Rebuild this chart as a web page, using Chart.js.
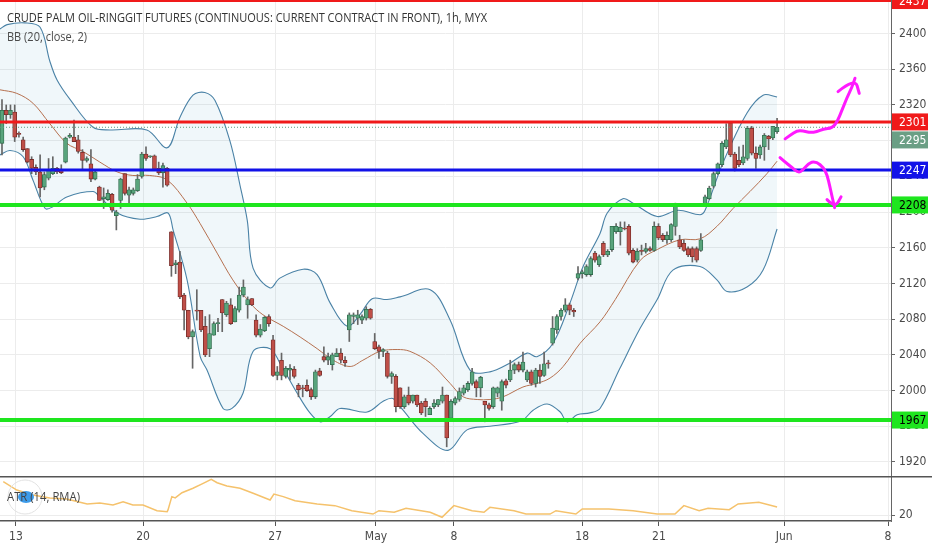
<!DOCTYPE html>
<html>
<head>
<meta charset="utf-8">
<script src="https://cdn.jsdelivr.net/npm/chart.js@4.4.1/dist/chart.umd.min.js"></script>
<style>
  html, body { margin: 0; padding: 0; background: #fff; }
  #wrap { position: relative; width: 932px; height: 550px; overflow: hidden; }
  #pricePane { position: absolute; left: 0; top: 0; width: 932px; height: 476px; }
  #atrPane { position: absolute; left: 0; top: 476px; width: 932px; height: 74px; }
</style>
</head>
<body>
<div id="wrap">
  <div id="pricePane"><canvas id="priceChart"></canvas></div>
  <div id="atrPane"><canvas id="atrChart"></canvas></div>
</div>
<script>
// hourly candles
const opens = [
  2277, 2314, 2309, 2312, 2288, 2281, 2271, 2259, 2250, 2245,
  2228, 2238, 2243, 2249, 2248, 2256, 2284, 2284, 2281, 2267,
  2258, 2254, 2237, 2228, 2215, 2214, 2220, 2196, 2213, 2243,
  2219, 2221, 2224, 2240, 2265, 2262, 2263, 2249, 2244, 2249,
  2178, 2141, 2144, 2107, 2090, 2060, 2090, 2090, 2072, 2047,
  2062, 2075, 2102, 2085, 2096, 2077, 2090, 2107, 2096, 2103,
  2079, 2062, 2067, 2083, 2057, 2017, 2034, 2016, 2023, 2024,
  2006, 2003, 2006, 2001, 1993, 2022, 2038, 2034, 2029, 2038,
  2042, 2034, 2068, 2083, 2081, 2079, 2081, 2091, 2055, 2049,
  2044, 2042, 2016, 2016, 2003, 1982, 1995, 1988, 1995, 1986,
  1988, 1973, 1982, 1984, 1988, 1995, 1969, 1986, 1990, 1997,
  2001, 2008, 2010, 2003, 1988, 1984, 1982, 1997, 1988, 2011,
  2012, 2023, 2029, 2023, 2012, 2021, 2008, 2023, 2017, 2031,
  2053, 2068, 2083, 2090, 2096, 2090, 2126, 2131, 2130, 2130,
  2154, 2141, 2165, 2152, 2158, 2178, 2178, 2182, 2184, 2157,
  2146, 2157, 2156, 2159, 2157, 2184, 2174, 2169, 2169, 2184,
  2169, 2165, 2159, 2159, 2159, 2157, 2209, 2215, 2229, 2243,
  2253, 2273, 2300, 2265, 2258, 2255, 2260, 2294, 2266, 2264,
  2273, 2285, 2283, 2290
];
const highs = [
  2326, 2320, 2320, 2320, 2290, 2284, 2271, 2262, 2253, 2264,
  2245, 2260, 2262, 2250, 2253, 2284, 2288, 2303, 2286, 2270,
  2262, 2270, 2247, 2229, 2227, 2225, 2221, 2202, 2238, 2243,
  2228, 2227, 2242, 2267, 2273, 2263, 2264, 2256, 2255, 2250,
  2178, 2146, 2156, 2109, 2090, 2068, 2113, 2090, 2083, 2085,
  2077, 2081, 2102, 2100, 2103, 2094, 2116, 2124, 2105, 2103,
  2085, 2074, 2083, 2085, 2062, 2027, 2042, 2027, 2029, 2027,
  2008, 2006, 2012, 2003, 2023, 2025, 2049, 2042, 2042, 2047,
  2047, 2038, 2087, 2087, 2090, 2085, 2094, 2092, 2064, 2051,
  2047, 2044, 2021, 2018, 2003, 1995, 2004, 1995, 1995, 1988,
  1991, 1982, 1990, 1990, 2004, 1995, 1990, 1993, 2003, 2006,
  2010, 2025, 2012, 2016, 1988, 1986, 2004, 2004, 2012, 2013,
  2034, 2031, 2032, 2043, 2023, 2023, 2025, 2029, 2043, 2034,
  2083, 2085, 2092, 2103, 2098, 2092, 2139, 2135, 2141, 2150,
  2156, 2152, 2167, 2158, 2184, 2187, 2189, 2189, 2186, 2159,
  2159, 2163, 2165, 2161, 2189, 2187, 2176, 2178, 2187, 2210,
  2174, 2169, 2161, 2161, 2161, 2176, 2219, 2229, 2245, 2255,
  2279, 2299, 2301, 2267, 2273, 2275, 2296, 2296, 2273, 2275,
  2288, 2286, 2296, 2305
];
const lows = [
  2264, 2299, 2305, 2279, 2284, 2268, 2255, 2243, 2242, 2217,
  2225, 2236, 2242, 2243, 2243, 2255, 2283, 2279, 2266, 2247,
  2256, 2234, 2236, 2213, 2204, 2213, 2200, 2180, 2204, 2219,
  2210, 2219, 2223, 2238, 2258, 2261, 2247, 2242, 2228, 2229,
  2128, 2131, 2103, 2068, 2058, 2025, 2079, 2066, 2038, 2038,
  2062, 2066, 2066, 2083, 2074, 2077, 2088, 2105, 2081, 2095,
  2060, 2060, 2066, 2072, 2016, 2012, 2012, 2014, 2012, 2014,
  1993, 1993, 1999, 1990, 1991, 2016, 2032, 2029, 2023, 2038,
  2031, 2027, 2055, 2075, 2074, 2075, 2079, 2080, 2046, 2036,
  2038, 2014, 2008, 1976, 1980, 1980, 1984, 1986, 1982, 1973,
  1971, 1973, 1980, 1982, 1986, 1937, 1967, 1984, 1988, 1995,
  1999, 2006, 1993, 1993, 1965, 1978, 1980, 1993, 1978, 2003,
  2010, 2019, 2021, 2021, 2010, 2006, 2004, 2008, 2016, 2025,
  2051, 2064, 2079, 2088, 2085, 2083, 2124, 2126, 2128, 2128,
  2144, 2139, 2150, 2150, 2156, 2176, 2163, 2180, 2152, 2143,
  2144, 2152, 2154, 2156, 2156, 2169, 2167, 2165, 2167, 2174,
  2159, 2156, 2150, 2144, 2144, 2156, 2208, 2214, 2227, 2242,
  2251, 2271, 2262, 2246, 2251, 2253, 2258, 2264, 2249, 2260,
  2258, 2270, 2281, 2288
];
const closes = [
  2314, 2309, 2314, 2284, 2287, 2270, 2256, 2249, 2245, 2227,
  2242, 2248, 2249, 2245, 2244, 2283, 2286, 2279, 2268, 2258,
  2260, 2237, 2245, 2213, 2217, 2221, 2202, 2200, 2237, 2221,
  2225, 2225, 2237, 2265, 2260, 2262, 2248, 2244, 2252, 2230,
  2140, 2143, 2105, 2090, 2060, 2066, 2089, 2068, 2040, 2064,
  2075, 2076, 2087, 2098, 2075, 2092, 2107, 2116, 2102, 2096,
  2062, 2069, 2082, 2075, 2017, 2021, 2017, 2025, 2025, 2016,
  2001, 2002, 2000, 1993, 2021, 2017, 2034, 2038, 2040, 2042,
  2034, 2031, 2085, 2085, 2085, 2083, 2091, 2081, 2047, 2044,
  2046, 2016, 2019, 1982, 1982, 1993, 1986, 1995, 1984, 1975,
  1982, 1980, 1986, 1990, 1995, 1947, 1988, 1991, 1999, 2003,
  2008, 2021, 2003, 2015, 1984, 1980, 2003, 2003, 2010, 2006,
  2023, 2029, 2023, 2032, 2021, 2008, 2023, 2016, 2030, 2030,
  2070, 2083, 2090, 2096, 2090, 2088, 2131, 2133, 2139, 2148,
  2146, 2150, 2152, 2156, 2184, 2184, 2183, 2181, 2154, 2144,
  2156, 2156, 2159, 2157, 2184, 2171, 2169, 2174, 2186, 2208,
  2161, 2157, 2152, 2150, 2146, 2169, 2217, 2227, 2243, 2254,
  2277, 2281, 2264, 2249, 2253, 2262, 2294, 2266, 2260, 2273,
  2286, 2282, 2296, 2295
];

// date ticks (bar index where each label sits)
const dayTicks = [3.3, 33.3, 64.5, 88.3, 106.7, 137, 155.1, 184.7, 209.2];
const dayLabels = ['13', '20', '27', 'May', '8', '18', '21', 'Jun', '8'];

// Bollinger bands (20, close, 2)
const upperIdx = [-0.5, 1.2, 5.4, 9.0, 11.3, 13.0, 16.1, 21.5, 25.5, 34.2, 39.0, 42.0, 45.1, 47.9, 50.3, 53.8, 56.2, 57.9, 59.3, 63.3, 65.6, 71.1, 74.4, 77.5, 81.5, 84.5, 87.4, 90.9, 94.0, 101.1, 105.8, 110.5, 115.2, 120.0, 124.0, 126.3, 130.1, 134.1, 137.2, 141.2, 142.9, 146.6, 149.0, 154.7, 159.6, 164.8, 166.0, 170.2, 175.9, 179.7, 183.0];
const upperVal = [2405, 2410, 2412, 2407, 2369, 2348, 2326, 2295, 2292, 2292, 2272, 2306, 2331, 2334, 2325, 2280, 2230, 2191, 2137, 2115, 2126, 2136, 2130, 2098, 2072, 2085, 2103, 2102, 2105, 2113, 2079, 2023, 2021, 2031, 2042, 2038, 2053, 2098, 2139, 2176, 2199, 2215, 2210, 2195, 2202, 2197, 2202, 2255, 2311, 2331, 2329];
const midIdx = [-0.5, 3.5, 7.3, 11.3, 15.3, 19.1, 23.1, 27.2, 30.9, 34.9, 39.0, 43.7, 46.8, 50.8, 54.5, 58.6, 61.6, 66.4, 70.4, 74.4, 78.2, 82.2, 85.2, 89.3, 93.3, 96.3, 101.1, 105.8, 108.9, 112.2, 115.2, 118.3, 123.0, 126.3, 129.4, 132.5, 136.5, 141.2, 144.8, 150.7, 154.7, 160.1, 164.8, 168.8, 172.6, 176.6, 180.6, 183.0];
const midVal = [2337, 2333, 2322, 2299, 2277, 2268, 2256, 2245, 2241, 2241, 2236, 2210, 2187, 2154, 2124, 2098, 2085, 2072, 2060, 2047, 2034, 2027, 2034, 2044, 2046, 2044, 2031, 2008, 1993, 1990, 1990, 1993, 2004, 2008, 2014, 2027, 2053, 2077, 2102, 2146, 2158, 2169, 2170, 2184, 2204, 2223, 2243, 2257];
const lowerIdx = [-0.5, 1.9, 5.0, 7.3, 10.2, 12.0, 15.3, 21.5, 23.1, 27.2, 32.6, 36.6, 39.2, 40.4, 43.7, 46.8, 48.4, 52.2, 54.3, 56.9, 59.3, 63.3, 65.6, 69.7, 72.7, 75.1, 77.5, 79.8, 86.2, 90.0, 92.3, 94.7, 99.4, 105.3, 109.8, 115.2, 120.0, 123.0, 125.4, 128.7, 131.8, 133.4, 135.8, 138.8, 141.2, 145.9, 150.7, 154.7, 158.4, 164.8, 168.8, 171.2, 175.9, 179.7, 183.0];
const lowerVal = [2264, 2269, 2262, 2236, 2204, 2206, 2217, 2223, 2217, 2199, 2192, 2195, 2199, 2180, 2124, 2038, 2023, 1980, 1980, 1997, 2044, 2047, 2031, 1997, 1975, 1965, 1971, 1980, 1976, 1988, 1991, 1978, 1952, 1933, 1956, 1960, 1963, 1967, 1978, 1985, 1976, 1965, 1973, 1975, 1980, 2025, 2070, 2102, 2135, 2139, 2124, 2111, 2116, 2135, 2181];

// ATR (14, RMA), sampled
const atrIdx = [0.3, 3.5, 7.3, 11.3, 15.3, 20.1, 23.1, 26.2, 28.6, 30.9, 33.3, 36.6, 39.0, 39.2, 40.1, 40.9, 42.5, 45.1, 47.5, 49.4, 50.8, 53.1, 56.2, 59.3, 63.3, 64.2, 66.4, 69.2, 74.4, 78.6, 82.6, 87.6, 89.0, 92.6, 95.4, 101.1, 103.9, 106.7, 111.0, 113.8, 115.2, 120.9, 123.7, 129.4, 130.8, 135.5, 137.0, 143.3, 149.0, 154.7, 158.9, 161.0, 164.6, 166.7, 171.7, 173.8, 178.7, 183.0];
const atrVal = [47.8, 40.8, 36.7, 34.2, 33.3, 29.2, 30.0, 28.3, 31.1, 28.3, 28.3, 23.6, 22.8, 24.2, 35.3, 34.2, 38.6, 42.3, 46.4, 49.8, 46.9, 44.2, 42.3, 38.1, 32.5, 37.5, 35.3, 31.9, 29.2, 27.8, 23.6, 20.8, 23.6, 22.3, 25.6, 22.3, 18.1, 27.8, 23.6, 22.3, 26.4, 23.6, 20.8, 20.8, 23.6, 20.8, 25.0, 25.0, 23.6, 20.8, 20.8, 27.8, 23.6, 25.6, 24.4, 29.2, 30.6, 26.7];

// horizontal levels drawn on the chart
const levels = [2437, 2301, 2247, 2208, 1967];
const levelColors = ['#f01a1a', '#f01a1a', '#1212e8', '#1ee61e', '#1ee61e'];
const levelTextColors = ['#fff', '#fff', '#fff', '#000', '#000'];
const levelWidths = [3, 3, 3, 4, 4];
const lastPrice = 2295;

// hand drawn magenta arrows, in [bar index, price]
const arrowUpPath = [[184.9, 2282], [186.1, 2286], [187.7, 2291], [189.1, 2291], [190.8, 2289], [192.4, 2290], [193.9, 2293], [196.0, 2294], [197.2, 2301], [198.3, 2314], [199.5, 2328], [200.7, 2340], [201.4, 2350]];
const arrowUpHead = [[197.4, 2335], [201.4, 2350], [202.4, 2333]];
const arrowDownPath = [[183.7, 2261], [184.9, 2256], [186.5, 2250], [188.0, 2244], [189.1, 2247], [190.8, 2256], [192.4, 2256], [193.9, 2250], [194.8, 2242], [195.5, 2228], [196.0, 2217], [196.6, 2205]];
const arrowDownHead = [[194.8, 2214], [196.7, 2205], [198.1, 2217]];

const xMin = -0.47, xMax = 209.9;
const axisFont = '"Liberation Sans Narrow", "DejaVu Sans Condensed", "Roboto", sans-serif';
const gridColor = '#ececec';
const upColor = '#58a47c';
const downColor = '#bf4f48';
const upEdge = '#2e6a4b';
const downEdge = '#742b27';

// keep tick labels from pushing the plot area in
const noPad = s => { s.paddingTop = 0; s.paddingBottom = 0; s.paddingLeft = 0; s.paddingRight = 0; };

function strokePath(ctx, x, y, pts) {
  const p = pts.map(([i, v]) => [x.getPixelForValue(i), y.getPixelForValue(v)]);
  ctx.beginPath();
  ctx.moveTo(p[0][0], p[0][1]);
  for (let k = 1; k < p.length - 1; k++) {
    const mx = (p[k][0] + p[k + 1][0]) / 2;
    const my = (p[k][1] + p[k + 1][1]) / 2;
    ctx.quadraticCurveTo(p[k][0], p[k][1], mx, my);
  }
  ctx.lineTo(p[p.length - 1][0], p[p.length - 1][1]);
  ctx.stroke();
}

function fitText(ctx, text, x, y, width) {
  const w = ctx.measureText(text).width;
  ctx.save();
  ctx.translate(x, y);
  ctx.scale(Math.min(1, width / w), 1);
  ctx.fillText(text, 0, 0);
  ctx.restore();
}

const priceOverlay = {
  id: 'priceOverlay',
  afterDatasetsDraw(chart) {
    const { ctx, chartArea: a, scales: { x, y } } = chart;
    ctx.save();

    // current price dotted line
    ctx.strokeStyle = '#5f9a7c';
    ctx.lineWidth = 1;
    ctx.setLineDash([1, 2]);
    const py0 = y.getPixelForValue(lastPrice);
    ctx.beginPath();
    ctx.moveTo(a.left, py0);
    ctx.lineTo(a.right, py0);
    ctx.stroke();
    ctx.setLineDash([]);

    // level lines
    levels.forEach((v, i) => {
      const py = y.getPixelForValue(v);
      ctx.strokeStyle = levelColors[i];
      ctx.lineWidth = levelWidths[i];
      ctx.beginPath();
      ctx.moveTo(a.left, py);
      ctx.lineTo(a.right, py);
      ctx.stroke();
    });

    // arrows
    ctx.strokeStyle = '#ff1aff';
    ctx.lineWidth = 3;
    ctx.lineCap = 'round';
    ctx.lineJoin = 'round';
    strokePath(ctx, x, y, arrowUpPath);
    strokePath(ctx, x, y, arrowUpHead);
    strokePath(ctx, x, y, arrowDownPath);
    strokePath(ctx, x, y, arrowDownHead);

    // titles
    ctx.fillStyle = '#333';
    ctx.textBaseline = 'middle';
    ctx.textAlign = 'left';
    ctx.font = '13px "Open Sans", sans-serif';
    fitText(ctx, 'CRUDE PALM OIL-RINGGIT FUTURES (CONTINUOUS: CURRENT CONTRACT IN FRONT), 1h, MYX', 7, 18, 480);
    ctx.fillStyle = '#4a4a4a';
    fitText(ctx, 'BB (20, close, 2)', 7, 37, 80);

    // price labels on the axis
    const boxes = levels.map((v, i) => ({ v, bg: levelColors[i], fg: levelTextColors[i] }));
    boxes.push({ v: lastPrice, bg: '#6b9f85', fg: '#fff' });
    boxes.forEach(b => { b.y = y.getPixelForValue(b.v); });
    boxes.sort((p, q) => p.y - q.y);
    const h = 17;
    for (let k = 1; k < boxes.length; k++) {
      const prev = boxes[k - 1];
      if (boxes[k].y - prev.y < h + 1) boxes[k].y = prev.y + h + 1;
    }
    ctx.font = '12px ' + axisFont;
    boxes.forEach(b => {
      ctx.fillStyle = b.bg;
      ctx.fillRect(a.right + 1, b.y - h / 2, 36, h);
      ctx.fillStyle = b.fg;
      ctx.fillText(String(b.v), a.right + 8, b.y + 1);
    });
    ctx.restore();
  }
};

const idx = closes.map((_, i) => i);
const rising = i => closes[i] >= opens[i];

new Chart(document.getElementById('priceChart'), {
  type: 'bar',
  data: {
    datasets: [
      {
        label: 'body',
        data: idx.map(i => ({ x: i, y: [opens[i], closes[i]] })),
        backgroundColor: c => rising(c.dataIndex) ? upColor : downColor,
        borderColor: c => rising(c.dataIndex) ? upEdge : downEdge,
        borderWidth: 0.8,
        borderSkipped: false,
        barThickness: 4,
        minBarLength: 1,
        grouped: false,
        order: 0
      },
      {
        label: 'wick',
        data: idx.map(i => ({ x: i, y: [lows[i], highs[i]] })),
        backgroundColor: '#666',
        barThickness: 1,
        grouped: false,
        order: 1
      },
      {
        type: 'line',
        label: 'basis',
        data: midIdx.map((v, k) => ({ x: v, y: midVal[k] })),
        borderColor: '#b5704f',
        borderWidth: 1,
        pointRadius: 0,
        tension: 0.35,
        order: 2
      },
      {
        type: 'line',
        label: 'upper',
        data: upperIdx.map((v, k) => ({ x: v, y: upperVal[k] })),
        borderColor: '#4a82a6',
        borderWidth: 1.1,
        pointRadius: 0,
        tension: 0.35,
        fill: '+1',
        backgroundColor: 'rgba(90,170,200,0.09)',
        order: 3
      },
      {
        type: 'line',
        label: 'lower',
        data: lowerIdx.map((v, k) => ({ x: v, y: lowerVal[k] })),
        borderColor: '#4a82a6',
        borderWidth: 1.1,
        pointRadius: 0,
        tension: 0.35,
        order: 4
      }
    ]
  },
  options: {
    responsive: true,
    maintainAspectRatio: false,
    animation: false,
    layout: { padding: 0 },
    plugins: {
      legend: { display: false },
      tooltip: { enabled: false }
    },
    scales: {
      x: {
        type: 'linear',
        min: xMin,
        max: xMax,
        offset: false,
        grid: { offset: false, color: gridColor, drawTicks: false },
        border: { display: false },
        ticks: { display: false },
        afterBuildTicks: s => { s.ticks = dayTicks.map(v => ({ value: v })); },
        afterFit: s => { s.height = 0; noPad(s); }
      },
      y: {
        position: 'right',
        min: 1904.3,
        max: 2437.6,
        beginAtZero: false,
        ticks: {
          stepSize: 40,
          includeBounds: false,
          color: '#4a4a4a',
          font: { size: 12, family: axisFont },
          padding: 4,
          callback: v => String(v)
        },
        grid: { color: gridColor, tickLength: 4, tickColor: '#666' },
        border: { color: '#666' },
        afterFit: s => { s.width = 41; noPad(s); }
      }
    }
  },
  plugins: [priceOverlay]
});

const atrOverlay = {
  id: 'atrOverlay',
  afterDatasetsDraw(chart) {
    const { ctx } = chart;
    ctx.save();
    ctx.strokeStyle = '#555';
    ctx.lineWidth = 1.5;
    ctx.beginPath();
    ctx.moveTo(0, 0.75);
    ctx.lineTo(chart.width, 0.75);
    ctx.stroke();

    // indicator badge
    ctx.strokeStyle = '#e2e2e2';
    ctx.lineWidth = 1;
    ctx.beginPath();
    ctx.arc(25, 21, 17, 0, Math.PI * 2);
    ctx.stroke();
    ctx.fillStyle = '#3d9be9';
    ctx.beginPath();
    ctx.ellipse(26, 21, 8, 6, 0, 0, Math.PI * 2);
    ctx.fill();

    ctx.fillStyle = '#444';
    ctx.textBaseline = 'middle';
    ctx.font = '13px "Open Sans", sans-serif';
    fitText(ctx, 'ATR (14, RMA)', 7, 21, 73);
    ctx.restore();
  }
};

new Chart(document.getElementById('atrChart'), {
  type: 'line',
  data: {
    datasets: [{
      label: 'ATR',
      data: atrIdx.map((v, k) => ({ x: v, y: atrVal[k] })),
      borderColor: '#f5c26c',
      borderWidth: 1.5,
      pointRadius: 0,
      tension: 0
    }]
  },
  options: {
    responsive: true,
    maintainAspectRatio: false,
    animation: false,
    layout: { padding: { top: 1 } },
    plugins: {
      legend: { display: false },
      tooltip: { enabled: false }
    },
    scales: {
      x: {
        type: 'linear',
        min: xMin,
        max: xMax,
        grid: { color: gridColor, tickLength: 5, tickColor: '#555' },
        border: { color: '#555', width: 1.5 },
        ticks: {
          color: '#4a4a4a',
          font: { size: 12, family: axisFont },
          padding: 4,
          maxRotation: 0,
          autoSkip: false,
          callback: (v, i) => dayLabels[i]
        },
        afterBuildTicks: s => { s.ticks = dayTicks.map(v => ({ value: v })); },
        afterFit: s => { s.height = 29; noPad(s); }
      },
      y: {
        position: 'right',
        min: 15,
        max: 51.67,
        ticks: { color: '#4a4a4a', font: { size: 12, family: axisFont }, padding: 4 },
        afterBuildTicks: s => { s.ticks = [{ value: 20 }]; },
        grid: { color: gridColor, tickLength: 4, tickColor: '#666' },
        border: { color: '#666' },
        afterFit: s => { s.width = 41; noPad(s); }
      }
    }
  },
  plugins: [atrOverlay]
});
</script>
</body>
</html>
